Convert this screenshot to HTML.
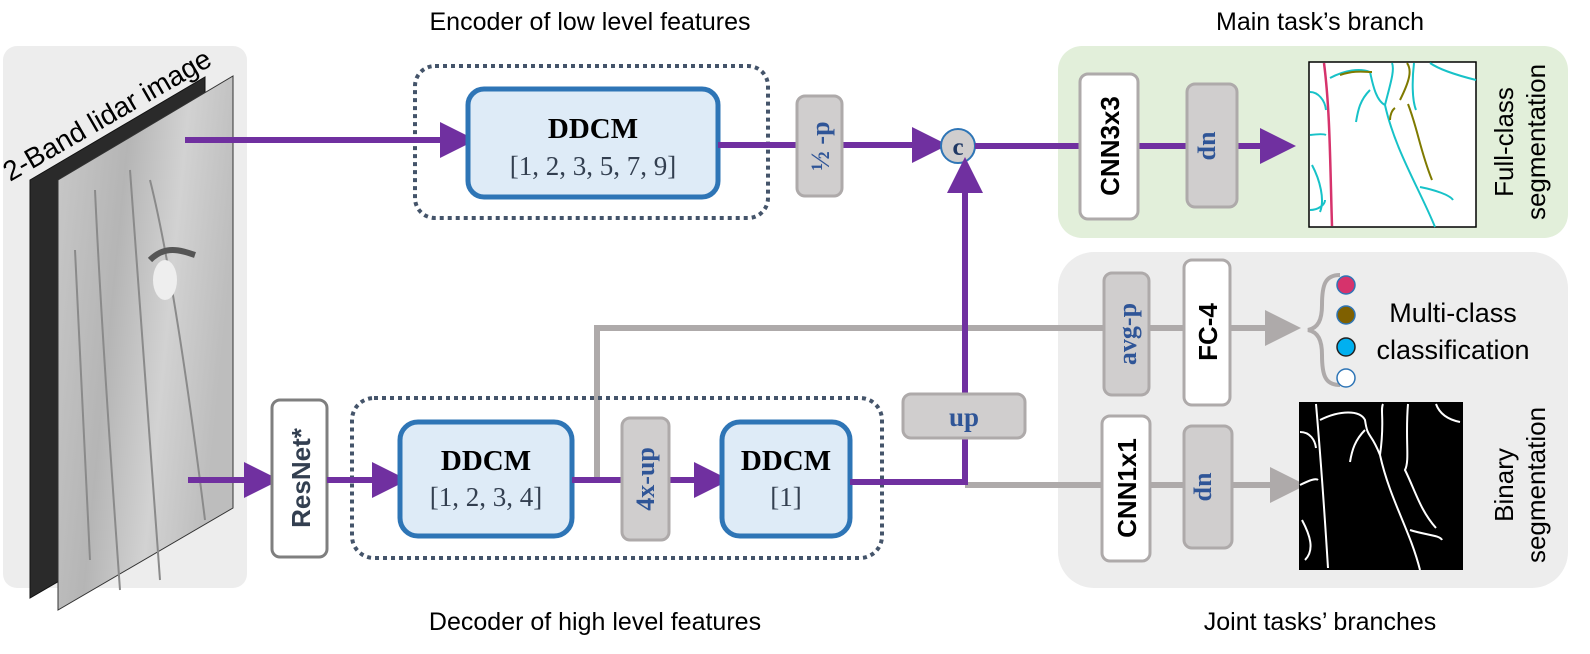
<!DOCTYPE html>
<html><head><meta charset="utf-8"><style>
html,body{margin:0;padding:0;background:#fff;}
svg{display:block;}
text{font-family:"Liberation Sans",sans-serif;}
.serif{font-family:"Liberation Serif",serif;}
</style></head><body>
<svg width="1590" height="654" viewBox="0 0 1590 654" xmlns="http://www.w3.org/2000/svg">
<defs>
<marker id="ap" markerWidth="6" markerHeight="6" refX="3" refY="3" orient="auto" markerUnits="strokeWidth"><path d="M0,0 L6,3 L0,6z" fill="#7030a0"/></marker>
<marker id="ag" markerWidth="6" markerHeight="6" refX="3" refY="3" orient="auto" markerUnits="strokeWidth"><path d="M0,0 L6,3 L0,6z" fill="#aeaaaa"/></marker>
<linearGradient id="lg" x1="0" y1="0" x2="1" y2="0.3">
<stop offset="0" stop-color="#c9c9c9"/><stop offset="0.4" stop-color="#b5b5b5"/><stop offset="0.7" stop-color="#d2d2d2"/><stop offset="1" stop-color="#bdbdbd"/></linearGradient>
</defs>
<text x="590" y="30" font-size="25" text-anchor="middle">Encoder of low level features</text>
<text x="595" y="630" font-size="25" text-anchor="middle">Decoder of high level features</text>
<text x="1320" y="30" font-size="25" text-anchor="middle">Main task’s branch</text>
<text x="1320" y="630" font-size="25" text-anchor="middle">Joint tasks’ branches</text>

<rect x="3" y="46" width="244" height="542" rx="14" fill="#ededed"/>
<polygon points="30,180 205,77 205,496 30,598" fill="#2a2a2a" stroke="#111"/>
<polygon points="58,180 233,76 233,508 58,610" fill="url(#lg)" stroke="#333"/>
<path d="M95,190 C100,300 110,450 120,590 M130,170 C140,300 150,450 160,580 M150,180 C170,260 190,400 205,520 M75,250 C80,350 85,450 90,560" stroke="#8a8a8a" stroke-width="2" fill="none"/>
<path d="M150,260 C165,245 180,250 195,255" stroke="#555" stroke-width="6" fill="none"/>
<ellipse cx="165" cy="280" rx="12" ry="20" fill="#eee"/>
<text x="0" y="0" font-size="28" transform="translate(10,182) rotate(-30)">2-Band lidar image</text>

<rect x="415" y="66" width="353" height="152" rx="20" fill="none" stroke="#44546a" stroke-width="4" stroke-dasharray="4,4"/>
<line x1="185" y1="140" x2="458" y2="140" stroke="#7030a0" stroke-width="6" marker-end="url(#ap)"/>
<rect x="468" y="89" width="250" height="108" rx="16" fill="#deebf7" stroke="#2e75b6" stroke-width="5"/>
<text x="593" y="138" font-size="29" font-weight="bold" text-anchor="middle" class="serif">DDCM</text>
<text x="593" y="175" font-size="27" text-anchor="middle" fill="#333f50" class="serif">[1, 2, 3, 5, 7, 9]</text>
<line x1="718" y1="145" x2="930" y2="145" stroke="#7030a0" stroke-width="6" marker-end="url(#ap)"/>
<rect x="797" y="96" width="45" height="100" rx="8" fill="#d0cece" stroke="#aeaaaa" stroke-width="3"/>
<text transform="translate(829,146) rotate(-90)" font-size="26" font-weight="bold" text-anchor="middle" fill="#2f5597" class="serif">½ -p</text>
<circle cx="958" cy="146" r="17" fill="#d0cece" stroke="#2e75b6" stroke-width="2"/>
<text x="958" y="155" font-size="25" font-weight="bold" text-anchor="middle" fill="#1f3864" class="serif">c</text>

<rect x="1058" y="46" width="510" height="192" rx="24" fill="#e2efda"/>
<line x1="975" y1="146" x2="1278" y2="146" stroke="#7030a0" stroke-width="6" marker-end="url(#ap)"/>
<rect x="1080" y="74" width="58" height="145" rx="8" fill="#fff" stroke="#aeaaaa" stroke-width="3"/>
<text transform="translate(1119,146) rotate(-90)" font-size="26" font-weight="bold" text-anchor="middle">CNN3x3</text>
<rect x="1187" y="84" width="50" height="123" rx="8" fill="#d0cece" stroke="#aeaaaa" stroke-width="3"/>
<text transform="translate(1203,146) rotate(90)" font-size="26" font-weight="bold" text-anchor="middle" fill="#2f5597" class="serif">up</text>
<rect x="1309" y="62" width="167" height="165" fill="#fff" stroke="#000" stroke-width="1.5"/>
<path d="M1324,63 C1330,110 1330,160 1332,226" stroke="#d6336c" stroke-width="2.5" fill="none"/>
<g stroke="#17c2c8" stroke-width="2" fill="none">
<path d="M1330,78 C1345,70 1360,68 1370,72 M1370,72 C1372,80 1375,100 1385,105 C1390,85 1395,70 1392,63 M1370,90 C1360,100 1358,110 1356,122 M1385,105 C1395,150 1420,190 1435,227 M1420,187 C1435,190 1450,195 1453,200 M1414,63 C1412,80 1412,100 1416,110 M1430,63 C1440,70 1460,76 1476,80 M1310,92 C1318,92 1325,100 1326,110 M1310,135 C1318,134 1324,134 1326,135 M1312,165 C1320,180 1325,200 1320,212 M1310,210 C1318,210 1325,205 1325,200"/>
</g>
<g stroke="#7f7a00" stroke-width="2" fill="none">
<path d="M1340,75 C1355,70 1365,72 1372,72 M1400,100 C1410,80 1412,70 1407,63 M1408,104 C1418,130 1420,150 1432,180 M1395,108 C1392,110 1390,115 1390,120"/>
</g>
<text transform="translate(1513,142) rotate(-90)" font-size="26" text-anchor="middle">Full-class</text>
<text transform="translate(1545,142) rotate(-90)" font-size="26" text-anchor="middle">segmentation</text>

<rect x="1058" y="252" width="510" height="336" rx="36" fill="#ededed"/>

<polyline points="597,480 597,328 1283,328" fill="none" stroke="#aeaaaa" stroke-width="6" marker-end="url(#ag)"/>
<line x1="965" y1="485" x2="1288" y2="485" stroke="#aeaaaa" stroke-width="6" marker-end="url(#ag)"/>

<rect x="352" y="398" width="530" height="160" rx="22" fill="none" stroke="#44546a" stroke-width="4" stroke-dasharray="4,4"/>
<line x1="188" y1="480" x2="262" y2="480" stroke="#7030a0" stroke-width="6" marker-end="url(#ap)"/>
<rect x="272" y="400" width="55" height="157" rx="8" fill="#fff" stroke="#7f7f7f" stroke-width="3"/>
<text transform="translate(310,478) rotate(-90)" font-size="26" font-weight="bold" text-anchor="middle" fill="#333f50">ResNet*</text>
<line x1="327" y1="480" x2="390" y2="480" stroke="#7030a0" stroke-width="6" marker-end="url(#ap)"/>
<rect x="400" y="422" width="172" height="114" rx="18" fill="#deebf7" stroke="#2e75b6" stroke-width="5"/>
<text x="486" y="470" font-size="29" font-weight="bold" text-anchor="middle" class="serif">DDCM</text>
<text x="486" y="506" font-size="27" text-anchor="middle" fill="#333f50" class="serif">[1, 2, 3, 4]</text>
<line x1="572" y1="480" x2="712" y2="480" stroke="#7030a0" stroke-width="6" marker-end="url(#ap)"/>
<rect x="622" y="418" width="47" height="122" rx="8" fill="#d0cece" stroke="#aeaaaa" stroke-width="3"/>
<text transform="translate(654,479) rotate(-90)" font-size="26" font-weight="bold" text-anchor="middle" fill="#2f5597" class="serif">4x-up</text>
<rect x="722" y="422" width="128" height="114" rx="18" fill="#deebf7" stroke="#2e75b6" stroke-width="5"/>
<text x="786" y="470" font-size="29" font-weight="bold" text-anchor="middle" class="serif">DDCM</text>
<text x="786" y="506" font-size="27" text-anchor="middle" fill="#333f50" class="serif">[1]</text>
<polyline points="850,482 965,482 965,175" fill="none" stroke="#7030a0" stroke-width="6" marker-end="url(#ap)"/>
<rect x="903" y="394" width="122" height="44" rx="8" fill="#d0cece" stroke="#aeaaaa" stroke-width="3"/>
<text x="964" y="426" font-size="27" font-weight="bold" text-anchor="middle" fill="#2f5597" class="serif">up</text>

<rect x="1104" y="273" width="45" height="122" rx="8" fill="#d0cece" stroke="#aeaaaa" stroke-width="3"/>
<text transform="translate(1136,334) rotate(-90)" font-size="26" font-weight="bold" text-anchor="middle" fill="#2f5597" class="serif">avg-p</text>
<rect x="1184" y="260" width="46" height="145" rx="8" fill="#fff" stroke="#aeaaaa" stroke-width="3"/>
<text transform="translate(1217,332) rotate(-90)" font-size="26" font-weight="bold" text-anchor="middle">FC-4</text>
<path d="M1340,275 C1325,275 1322,285 1322,305 C1322,320 1318,328 1308,330 C1318,332 1322,340 1322,355 C1322,375 1325,385 1340,385" fill="none" stroke="#aeaaaa" stroke-width="4"/>
<circle cx="1346" cy="285" r="9" fill="#d6336c" stroke="#2e75b6" stroke-width="1.5"/>
<circle cx="1346" cy="315" r="9" fill="#7f6000" stroke="#2e75b6" stroke-width="1.5"/>
<circle cx="1346" cy="347" r="9" fill="#00b0f0" stroke="#222" stroke-width="1.5"/>
<circle cx="1346" cy="378" r="9" fill="#fff" stroke="#2e75b6" stroke-width="1.5"/>
<text x="1453" y="322" font-size="27" text-anchor="middle">Multi-class</text>
<text x="1453" y="359" font-size="27" text-anchor="middle">classification</text>
<rect x="1102" y="416" width="48" height="145" rx="8" fill="#fff" stroke="#aeaaaa" stroke-width="3"/>
<text transform="translate(1136,488) rotate(-90)" font-size="26" font-weight="bold" text-anchor="middle">CNN1x1</text>
<rect x="1184" y="426" width="48" height="122" rx="8" fill="#d0cece" stroke="#aeaaaa" stroke-width="3"/>
<text transform="translate(1199,487) rotate(90)" font-size="26" font-weight="bold" text-anchor="middle" fill="#2f5597" class="serif">up</text>
<rect x="1299" y="402" width="164" height="168" fill="#000"/>
<g stroke="#fff" stroke-width="2" fill="none">
<path d="M1316,404 C1320,450 1325,520 1328,568 M1320,420 C1340,410 1360,410 1365,420 C1368,440 1370,430 1380,455 C1385,420 1380,410 1383,404 M1365,430 C1355,440 1352,450 1350,462 M1380,455 C1390,500 1410,530 1420,570 M1410,530 C1425,535 1440,535 1442,540 M1408,404 C1405,440 1410,460 1405,470 C1415,490 1420,510 1436,528 M1436,404 C1440,415 1450,420 1460,422 M1300,432 C1310,432 1315,440 1316,448 M1300,485 C1310,480 1316,478 1318,480 M1302,520 C1310,535 1315,550 1305,560"/>
</g>
<text transform="translate(1513,485) rotate(-90)" font-size="26" text-anchor="middle">Binary</text>
<text transform="translate(1545,485) rotate(-90)" font-size="26" text-anchor="middle">segmentation</text>
</svg>
</body></html>
